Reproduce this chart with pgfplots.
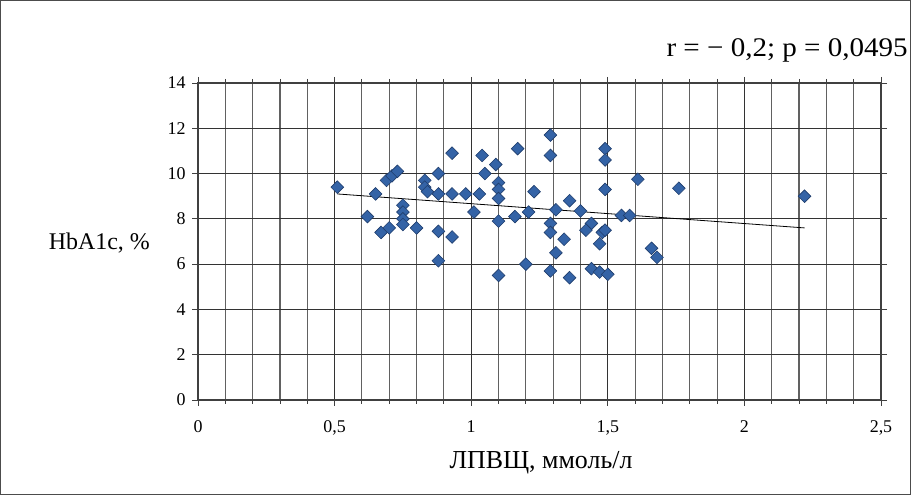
\documentclass[border=0pt]{standalone}
\usepackage{pgfplots}
\pgfplotsset{compat=1.18}
\usepackage{fontspec}
\setmainfont{Liberation Serif}
\definecolor{mfill}{HTML}{3463A6}
\definecolor{mdraw}{HTML}{1F3D6C}
\begin{document}
\begin{tikzpicture}
\draw[black!70, line width=1.2bp] (0.6bp,0.6bp) rectangle (910.4bp,494.4bp);
\begin{axis}[
  at={(198bp,95bp)}, anchor=south west,
  scale only axis, width=683bp, height=317bp,
  xmin=0, xmax=2.5, ymin=0, ymax=14,
  xtick={0,0.5,1,1.5,2,2.5}, ytick={0,2,...,14},
  minor x tick num=4,
  grid=both,
  major grid style={draw=black!80, line width=1.1bp},
  minor grid style={draw=black!62, line width=1.1bp},
  axis line style={draw=black!75, line width=1.1bp},
  tick align=outside,
  major tick length=6bp, minor tick length=4bp,
  tick style={draw=black!75, line width=0.9bp},
  xticklabel style={font=\fontsize{18}{20}\selectfont, yshift=-11bp},
  yticklabel style={font=\fontsize{18}{20}\selectfont, xshift=-3bp},
  /pgf/number format/use comma,
  /pgf/number format/assume math mode=true,
  clip=false,
]
\addplot[only marks, mark=square*, mark size=4.5bp,
  mark options={rotate=45, fill=mfill, draw=mdraw, line width=0.6bp}]
coordinates {
(0.51,9.4) (0.65,9.1) (0.62,8.1) (0.69,9.7) (0.71,9.9) (0.73,10.1)
(0.75,8.6) (0.75,8.3) (0.75,8.0) (0.75,7.75) (0.67,7.4) (0.70,7.6)
(0.80,7.6) (0.83,9.7) (0.83,9.4) (0.84,9.2) (0.88,10.0) (0.88,9.1)
(0.93,9.1) (0.98,9.1) (0.93,10.9) (0.88,7.45) (0.93,7.2) (0.88,6.15)
(1.01,8.3) (1.04,10.8) (1.09,10.4) (1.05,10.0) (1.17,11.1) (1.29,11.7)
(1.29,10.8) (1.49,11.1) (1.49,10.6) (1.49,9.3) (1.03,9.1) (1.10,9.6)
(1.10,9.3) (1.10,8.9) (1.23,9.2) (1.10,7.9) (1.16,8.1) (1.21,8.3)
(1.31,8.4) (1.36,8.8) (1.40,8.35) (1.29,7.8) (1.29,7.4) (1.34,7.1)
(1.31,6.5) (1.44,7.8) (1.42,7.5) (1.48,7.4) (1.49,7.5) (1.47,6.9)
(1.55,8.15) (1.58,8.15) (1.10,5.5) (1.20,6.0) (1.29,5.7) (1.36,5.4)
(1.44,5.8) (1.47,5.65) (1.50,5.55) (1.61,9.75) (1.76,9.35) (1.66,6.7)
(1.68,6.3) (2.22,9.0)
};
\addplot[black, line width=0.8bp, mark=none] coordinates {(0.51,9.1) (2.22,7.6)};
\end{axis}
\node[anchor=base east, inner sep=0pt, xscale=1.08, font=\fontsize{27}{30}\selectfont] at (908bp,438bp) {r = − 0,2; p = 0,0495};
\node[anchor=base east, inner sep=0pt, font=\fontsize{24}{28}\selectfont] at (150bp,245bp) {HbA1c, \%};
\node[anchor=base, inner sep=0pt, font=\fontsize{26}{28}\selectfont] at (541bp,27bp) {ЛПВЩ, ммоль/л};
\end{tikzpicture}
\end{document}
